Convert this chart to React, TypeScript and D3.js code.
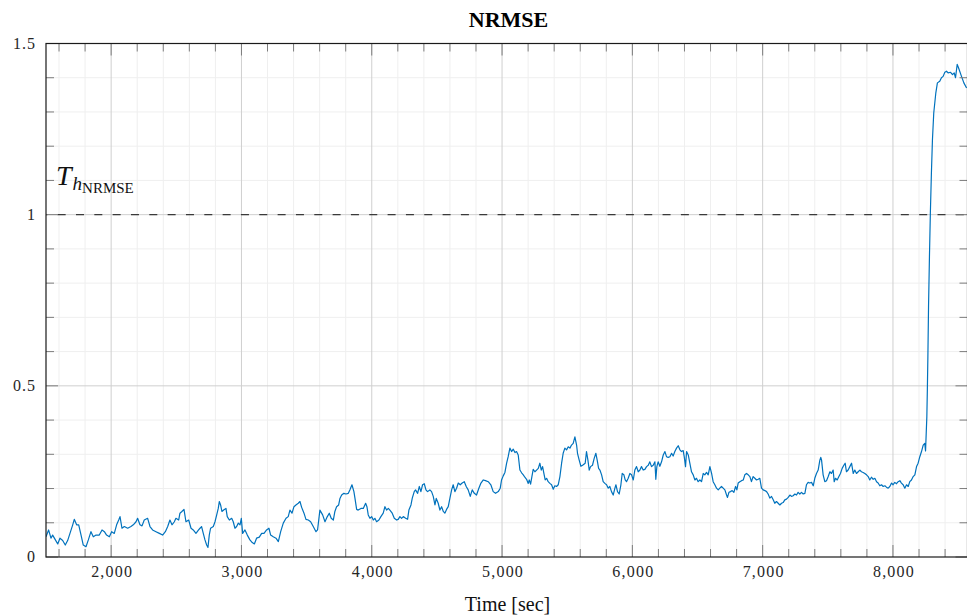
import React from "react";
import * as d3 from "d3";

// NRMSE over time: [time (s), value]
const nrmseSeries: [number, number][] = [
  [1500, 0.059], [1520, 0.079], [1538, 0.055], [1551, 0.064], [1572, 0.05], [1590, 0.038], [1607, 0.055], [1628, 0.048],
  [1648, 0.035], [1666, 0.048], [1684, 0.069], [1705, 0.094], [1717, 0.11], [1735, 0.094], [1751, 0.094], [1769, 0.064],
  [1786, 0.035], [1807, 0.03], [1825, 0.05], [1845, 0.074], [1863, 0.059], [1884, 0.064], [1909, 0.064], [1930, 0.079],
  [1948, 0.074], [1965, 0.064], [1986, 0.059], [2004, 0.074], [2024, 0.069], [2042, 0.094], [2058, 0.108], [2068, 0.118],
  [2083, 0.084], [2101, 0.089], [2127, 0.084], [2152, 0.089], [2170, 0.094], [2191, 0.103], [2203, 0.113], [2221, 0.094],
  [2237, 0.091], [2254, 0.108], [2280, 0.113], [2298, 0.089], [2318, 0.079], [2344, 0.074], [2370, 0.069], [2395, 0.064],
  [2416, 0.074], [2434, 0.089], [2451, 0.108], [2467, 0.094], [2485, 0.103], [2497, 0.113], [2518, 0.108], [2528, 0.128],
  [2543, 0.133], [2559, 0.139], [2574, 0.103], [2595, 0.108], [2613, 0.084], [2630, 0.079], [2651, 0.069], [2671, 0.079],
  [2682, 0.084], [2694, 0.089], [2707, 0.069], [2720, 0.05], [2733, 0.035], [2743, 0.028], [2753, 0.064], [2763, 0.084],
  [2784, 0.089], [2797, 0.103], [2810, 0.123], [2822, 0.142], [2830, 0.162], [2840, 0.152], [2850, 0.133], [2866, 0.138],
  [2881, 0.142], [2891, 0.118], [2907, 0.108], [2925, 0.113], [2937, 0.103], [2950, 0.084], [2963, 0.089], [2976, 0.099],
  [2989, 0.094], [2999, 0.113], [3009, 0.069], [3027, 0.079], [3045, 0.064], [3065, 0.05], [3083, 0.042], [3099, 0.038],
  [3116, 0.055], [3137, 0.058], [3155, 0.069], [3173, 0.069], [3193, 0.079], [3211, 0.084], [3224, 0.064], [3244, 0.059],
  [3265, 0.055], [3283, 0.045], [3301, 0.074], [3321, 0.099], [3342, 0.113], [3359, 0.118], [3372, 0.137], [3388, 0.128],
  [3403, 0.147], [3418, 0.152], [3436, 0.157], [3449, 0.162], [3462, 0.145], [3480, 0.128], [3495, 0.11], [3513, 0.108],
  [3531, 0.103], [3551, 0.089], [3572, 0.074], [3584, 0.079], [3602, 0.137], [3623, 0.123], [3641, 0.103], [3659, 0.118],
  [3674, 0.128], [3689, 0.113], [3705, 0.108], [3717, 0.133], [3730, 0.147], [3746, 0.152], [3756, 0.171], [3769, 0.181],
  [3786, 0.186], [3802, 0.184], [3820, 0.186], [3832, 0.196], [3848, 0.211], [3863, 0.191], [3871, 0.172], [3884, 0.139],
  [3896, 0.137], [3917, 0.142], [3935, 0.142], [3953, 0.157], [3963, 0.147], [3973, 0.123], [3986, 0.113], [3999, 0.118],
  [4012, 0.108], [4024, 0.113], [4037, 0.103], [4055, 0.108], [4070, 0.118], [4088, 0.128], [4101, 0.147], [4114, 0.137],
  [4127, 0.142], [4139, 0.137], [4157, 0.128], [4173, 0.113], [4191, 0.108], [4203, 0.11], [4216, 0.118], [4229, 0.113],
  [4242, 0.118], [4260, 0.113], [4275, 0.11], [4285, 0.137], [4301, 0.152], [4311, 0.172], [4326, 0.191], [4336, 0.196],
  [4352, 0.186], [4365, 0.206], [4377, 0.191], [4390, 0.211], [4403, 0.214], [4416, 0.196], [4428, 0.191], [4446, 0.196],
  [4459, 0.191], [4472, 0.177], [4485, 0.152], [4495, 0.171], [4510, 0.157], [4523, 0.137], [4536, 0.147], [4549, 0.133],
  [4561, 0.128], [4574, 0.139], [4587, 0.147], [4600, 0.172], [4613, 0.196], [4625, 0.211], [4638, 0.191], [4651, 0.201],
  [4664, 0.216], [4679, 0.211], [4694, 0.216], [4710, 0.22], [4725, 0.206], [4740, 0.196], [4756, 0.177], [4771, 0.196],
  [4787, 0.186], [4804, 0.181], [4822, 0.201], [4838, 0.216], [4856, 0.225], [4873, 0.223], [4894, 0.22], [4914, 0.211],
  [4932, 0.191], [4950, 0.186], [4971, 0.191], [4986, 0.201], [4996, 0.225], [5009, 0.237], [5022, 0.247], [5035, 0.274],
  [5047, 0.293], [5060, 0.318], [5073, 0.308], [5086, 0.315], [5099, 0.305], [5111, 0.308], [5124, 0.298], [5137, 0.254],
  [5150, 0.246], [5163, 0.24], [5175, 0.233], [5188, 0.227], [5201, 0.215], [5209, 0.225], [5219, 0.213], [5229, 0.235],
  [5239, 0.256], [5252, 0.249], [5265, 0.254], [5278, 0.259], [5290, 0.274], [5301, 0.254], [5311, 0.264], [5321, 0.244],
  [5331, 0.225], [5342, 0.23], [5354, 0.22], [5367, 0.215], [5380, 0.211], [5393, 0.198], [5405, 0.208], [5418, 0.206],
  [5431, 0.211], [5444, 0.235], [5457, 0.274], [5469, 0.303], [5482, 0.318], [5495, 0.313], [5508, 0.322], [5521, 0.318],
  [5533, 0.327], [5546, 0.332], [5559, 0.351], [5572, 0.327], [5579, 0.303], [5592, 0.283], [5605, 0.265], [5618, 0.268],
  [5628, 0.271], [5638, 0.274], [5648, 0.308], [5659, 0.283], [5669, 0.254], [5679, 0.264], [5694, 0.268], [5707, 0.288],
  [5720, 0.303], [5730, 0.283], [5741, 0.259], [5751, 0.254], [5764, 0.24], [5776, 0.22], [5789, 0.215], [5802, 0.211],
  [5815, 0.201], [5827, 0.206], [5840, 0.191], [5853, 0.181], [5866, 0.201], [5874, 0.211], [5886, 0.191], [5899, 0.184],
  [5912, 0.211], [5922, 0.244], [5935, 0.24], [5945, 0.225], [5955, 0.22], [5968, 0.23], [5981, 0.244], [5994, 0.24],
  [6007, 0.225], [6019, 0.254], [6032, 0.264], [6045, 0.249], [6058, 0.254], [6070, 0.264], [6083, 0.254], [6096, 0.256],
  [6109, 0.264], [6122, 0.268], [6134, 0.278], [6147, 0.264], [6160, 0.268], [6173, 0.278], [6180, 0.227], [6188, 0.264],
  [6198, 0.278], [6211, 0.265], [6224, 0.278], [6237, 0.298], [6250, 0.308], [6262, 0.293], [6275, 0.291], [6288, 0.293],
  [6301, 0.303], [6313, 0.295], [6326, 0.308], [6339, 0.318], [6352, 0.325], [6365, 0.313], [6377, 0.308], [6390, 0.311],
  [6398, 0.293], [6408, 0.264], [6416, 0.308], [6429, 0.298], [6441, 0.274], [6454, 0.249], [6467, 0.24], [6480, 0.225],
  [6492, 0.23], [6505, 0.22], [6518, 0.225], [6531, 0.22], [6544, 0.244], [6556, 0.24], [6569, 0.247], [6582, 0.24],
  [6595, 0.264], [6608, 0.244], [6620, 0.22], [6633, 0.211], [6646, 0.201], [6659, 0.196], [6671, 0.201], [6684, 0.206],
  [6697, 0.201], [6710, 0.196], [6723, 0.181], [6730, 0.174], [6741, 0.189], [6753, 0.191], [6766, 0.194], [6779, 0.189],
  [6792, 0.206], [6802, 0.196], [6812, 0.216], [6825, 0.22], [6838, 0.223], [6851, 0.225], [6863, 0.24], [6876, 0.244],
  [6889, 0.24], [6902, 0.235], [6914, 0.22], [6927, 0.235], [6940, 0.23], [6953, 0.225], [6966, 0.227], [6978, 0.23],
  [6991, 0.201], [7004, 0.196], [7017, 0.194], [7030, 0.191], [7042, 0.184], [7055, 0.172], [7068, 0.177], [7081, 0.167],
  [7093, 0.157], [7106, 0.162], [7119, 0.157], [7132, 0.152], [7145, 0.157], [7157, 0.159], [7170, 0.167], [7183, 0.169],
  [7196, 0.174], [7209, 0.181], [7221, 0.177], [7234, 0.179], [7247, 0.184], [7260, 0.181], [7272, 0.189], [7285, 0.184],
  [7298, 0.189], [7311, 0.184], [7324, 0.186], [7336, 0.211], [7349, 0.218], [7362, 0.216], [7375, 0.218], [7388, 0.208],
  [7400, 0.23], [7413, 0.244], [7426, 0.254], [7439, 0.283], [7446, 0.291], [7452, 0.283], [7464, 0.24], [7477, 0.22],
  [7490, 0.223], [7503, 0.235], [7516, 0.249], [7528, 0.244], [7541, 0.254], [7549, 0.22], [7559, 0.23], [7572, 0.225],
  [7585, 0.235], [7597, 0.244], [7610, 0.259], [7623, 0.268], [7633, 0.274], [7643, 0.249], [7656, 0.254], [7669, 0.264],
  [7682, 0.274], [7695, 0.244], [7707, 0.254], [7720, 0.244], [7733, 0.249], [7746, 0.254], [7758, 0.249], [7771, 0.247],
  [7784, 0.244], [7797, 0.24], [7810, 0.235], [7822, 0.225], [7835, 0.233], [7848, 0.227], [7861, 0.23], [7874, 0.22],
  [7886, 0.216], [7899, 0.208], [7912, 0.211], [7925, 0.206], [7938, 0.208], [7950, 0.204], [7963, 0.201], [7976, 0.206],
  [7989, 0.216], [8001, 0.211], [8014, 0.218], [8027, 0.214], [8040, 0.22], [8053, 0.223], [8065, 0.216], [8078, 0.211],
  [8091, 0.201], [8104, 0.211], [8117, 0.206], [8129, 0.22], [8142, 0.225], [8155, 0.235], [8168, 0.24], [8181, 0.264],
  [8193, 0.274], [8206, 0.293], [8219, 0.308], [8232, 0.327], [8244, 0.332], [8250, 0.31], [8255, 0.36], [8260, 0.41],
  [8264, 0.49], [8268, 0.586], [8273, 0.732], [8280, 0.878], [8287, 1.005], [8295, 1.122], [8303, 1.219], [8313, 1.297],
  [8329, 1.356], [8341, 1.385], [8359, 1.39], [8372, 1.4], [8385, 1.404], [8398, 1.416], [8411, 1.419], [8423, 1.414],
  [8442, 1.416], [8457, 1.409], [8470, 1.414], [8480, 1.4], [8493, 1.439], [8503, 1.429], [8526, 1.404], [8544, 1.385],
  [8565, 1.37],
];

const threshold = 1;
const xDomain: [number, number] = [1500, 8572];
const yDomain: [number, number] = [0, 1.5];
const xMajorTicks = [2000, 3000, 4000, 5000, 6000, 7000, 8000];
const xMinorTicks = [1600, 1800, 2200, 2400, 2600, 2800, 3200, 3400, 3600, 3800, 4200, 4400, 4600, 4800,
  5200, 5400, 5600, 5800, 6200, 6400, 6600, 6800, 7200, 7400, 7600, 7800, 8200, 8400];
const yMajorTicks = [0, 0.5, 1, 1.5];
const yMinorTicks = [0.1, 0.2, 0.3, 0.4, 0.6, 0.7, 0.8, 0.9, 1.1, 1.2, 1.3, 1.4];

const W = 967;
const H = 615;
const left = 46;
const right = 967.5;
const top = 43.5;
const bottom = 557;

const serif = "'Liberation Serif', 'Times New Roman', serif";

export default function App() {
  const x = d3.scaleLinear().domain(xDomain).range([left, right]);
  const y = d3.scaleLinear().domain(yDomain).range([bottom, top]);
  const line = d3
    .line<[number, number]>()
    .x((d) => x(d[0]))
    .y((d) => y(d[1]));
  const fmtX = d3.format(",");
  const majorLen = 12;
  const minorLen = 8;

  return (
    <div style={{ position: "fixed", left: 0, top: 0 }}>
      <svg width={W} height={H} viewBox={`0 0 ${W} ${H}`} style={{ display: "block", background: "#fff" }}>
        <defs>
          <clipPath id="plot-area">
            <rect x={left} y={top} width={right - left} height={bottom - top} />
          </clipPath>
        </defs>

        {/* minor grid */}
        <g stroke="#efefef" strokeWidth={1}>
          {xMinorTicks.map((t) => (
            <line key={`gx${t}`} x1={x(t)} x2={x(t)} y1={top} y2={bottom} />
          ))}
          {yMinorTicks.map((t) => (
            <line key={`gy${t}`} x1={left} x2={right} y1={y(t)} y2={y(t)} />
          ))}
        </g>
        {/* major grid */}
        <g stroke="#cfcfcf" strokeWidth={1}>
          {xMajorTicks.map((t) => (
            <line key={`Gx${t}`} x1={x(t)} x2={x(t)} y1={top} y2={bottom} />
          ))}
          {yMajorTicks
            .filter((t) => t > 0 && t < 1.5)
            .map((t) => (
              <line key={`Gy${t}`} x1={left} x2={right} y1={y(t)} y2={y(t)} />
            ))}
        </g>

        {/* threshold */}
        <line
          x1={left}
          x2={right}
          y1={y(threshold)}
          y2={y(threshold)}
          stroke="#3a3a3a"
          strokeWidth={1.3}
          strokeDasharray="8 10.33"
          strokeDashoffset={6.67}
        />

        {/* series */}
        <path
          d={line(nrmseSeries) || ""}
          fill="none"
          stroke="#0072bd"
          strokeWidth={1.2}
          strokeLinejoin="round"
          clipPath="url(#plot-area)"
        />

        {/* ticks */}
        <g stroke="#7d7d7d" strokeWidth={1}>
          {xMajorTicks.map((t) => (
            <g key={`tx${t}`}>
              <line x1={x(t)} x2={x(t)} y1={bottom} y2={bottom - majorLen} />
              <line x1={x(t)} x2={x(t)} y1={top} y2={top + majorLen} />
            </g>
          ))}
          {xMinorTicks.map((t) => (
            <g key={`tmx${t}`}>
              <line x1={x(t)} x2={x(t)} y1={bottom} y2={bottom - minorLen} />
              <line x1={x(t)} x2={x(t)} y1={top} y2={top + minorLen} />
            </g>
          ))}
          {yMajorTicks.map((t) => (
            <g key={`ty${t}`}>
              <line x1={left} x2={left + majorLen} y1={y(t)} y2={y(t)} />
              <line x1={right} x2={right - majorLen} y1={y(t)} y2={y(t)} />
            </g>
          ))}
          {yMinorTicks.map((t) => (
            <g key={`tmy${t}`}>
              <line x1={left} x2={left + minorLen} y1={y(t)} y2={y(t)} />
              <line x1={right} x2={right - minorLen} y1={y(t)} y2={y(t)} />
            </g>
          ))}
        </g>

        {/* frame */}
        <rect
          x={left}
          y={top}
          width={right - left}
          height={bottom - top}
          fill="none"
          stroke="#1a1a1a"
          strokeWidth={1.2}
        />

        {/* tick labels */}
        <g fontFamily={serif} fontSize={16} fill="#262626">
          {xMajorTicks.map((t) => (
            <text key={`lx${t}`} x={x(t) + 1} y={577} textAnchor="middle" letterSpacing={1.2}>
              {fmtX(t)}
            </text>
          ))}
          {yMajorTicks.map((t) => (
            <text key={`ly${t}`} x={36} y={y(t) + 5} textAnchor="end" letterSpacing={1}>
              {String(t)}
            </text>
          ))}
        </g>

        {/* threshold label */}
        <text x={56} y={185} fontFamily={serif} fill="#111">
          <tspan fontSize={28} fontStyle="italic">T</tspan>
          <tspan fontSize={19} fontStyle="italic" dx={1} dy={5}>h</tspan>
          <tspan fontSize={15} dy={3}>NRMSE</tspan>
        </text>

        {/* title and axis label */}
        <text x={508.5} y={27} textAnchor="middle" fontFamily={serif} fontWeight="bold" fontSize={22} fill="#000">
          NRMSE
        </text>
        <text x={507.5} y={611} textAnchor="middle" fontFamily={serif} fontSize={20} fill="#111">
          Time [sec]
        </text>
      </svg>
    </div>
  );
}
